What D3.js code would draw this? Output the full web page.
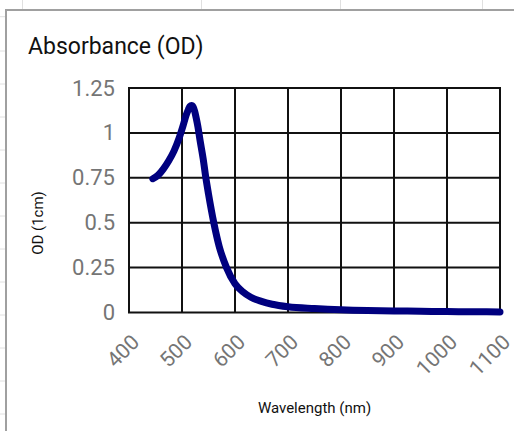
<!DOCTYPE html>
<html>
<head>
<meta charset="utf-8">
<script src="https://cdn.jsdelivr.net/npm/d3@7"></script>
<style>
  html, body { margin: 0; padding: 0; background: #fff; }
  svg { display: block; }
  text { font-family: Roboto, "Noto Sans", sans-serif; }
</style>
</head>
<body>
<svg id="chart" width="514" height="431"></svg>
<script>
// ---- data ----
const wavelengths = [445, 455, 465, 475, 485, 495, 502, 508, 512, 515, 518, 521, 524, 527, 530, 534, 540, 545, 550, 560, 570, 584, 600, 615, 630, 650, 670, 700, 750, 800, 850, 900, 950, 1000, 1050, 1100];
const odValues    = [0.745, 0.765, 0.80, 0.845, 0.90, 0.975, 1.04, 1.10, 1.13, 1.148, 1.153, 1.145, 1.12, 1.08, 1.035, 0.96, 0.855, 0.75, 0.66, 0.50, 0.37, 0.25, 0.16, 0.115, 0.085, 0.062, 0.046, 0.032, 0.022, 0.015, 0.011, 0.009, 0.007, 0.005, 0.004, 0.003];
const xTicks = [400, 500, 600, 700, 800, 900, 1000, 1100];
const yTicks = [0, 0.25, 0.5, 0.75, 1, 1.25];
const yTickLabels = ["0", "0.25", "0.5", "0.75", "1", "1.25"];
const chartTitle = "Absorbance (OD)";
const xTitle = "Wavelength (nm)";
const yTitle = "OD (1cm)";

const svg = d3.select("#chart");

// ---- spreadsheet background ----
const bg = svg.append("g");
[16.7, 51, 84, 117, 150, 183, 216, 249, 282, 315, 348, 381, 414].forEach(y => {
  bg.append("line").attr("x1", 0).attr("x2", 6).attr("y1", y).attr("y2", y)
    .attr("stroke", "#e0e0e0").attr("stroke-width", 1);
});
[22.5, 201.5, 340.5, 482.5].forEach(x => {
  bg.append("line").attr("x1", x).attr("x2", x).attr("y1", 0).attr("y2", 10)
    .attr("stroke", "#e0e0e0").attr("stroke-width", 1);
});
// chart panel
svg.append("rect").attr("x", 6).attr("y", 10).attr("width", 520).attr("height", 430)
  .attr("fill", "#fff").attr("stroke", "#a0a0a0").attr("stroke-width", 2);

// ---- scales ----
const x = d3.scaleLinear().domain([400, 1100]).range([129, 500]);
const y = d3.scaleLinear().domain([0, 1.25]).range([312.5, 88]);

// ---- gridlines ----
const grid = svg.append("g");
grid.selectAll("line.v").data(xTicks).join("line")
  .attr("x1", d => x(d)).attr("x2", d => x(d))
  .attr("y1", y(1.25)).attr("y2", y(0))
  .attr("stroke", "#111").attr("stroke-width", 2);
grid.selectAll("line.h").data(yTicks).join("line")
  .attr("x1", x(400) - 1).attr("x2", x(1100) + 1)
  .attr("y1", d => y(d)).attr("y2", d => y(d))
  .attr("stroke", "#111").attr("stroke-width", 2);

// ---- axes labels ----
const yAxis = d3.axisLeft(y).tickValues(yTicks).tickSize(0).tickPadding(14)
  .tickFormat((d, i) => yTickLabels[i]);
const gy = svg.append("g").attr("transform", `translate(${x(400)},0)`).call(yAxis);
gy.select(".domain").remove();
gy.selectAll("text").attr("fill", "#757575").style("font-size", "22px")
  .style("font-family", "Roboto, sans-serif");

const xAxis = d3.axisBottom(x).tickValues(xTicks).tickSize(0).tickFormat(d3.format("d"));
const gx = svg.append("g").attr("transform", `translate(0,${y(0)})`).call(xAxis);
gx.select(".domain").remove();
gx.selectAll("text")
  .attr("fill", "#757575").style("font-size", "21px").style("font-family", "Roboto, sans-serif")
  .attr("text-anchor", "end").attr("dy", 0).attr("y", 0)
  .attr("transform", "translate(11,31) rotate(-45)");

// ---- line ----
const pts = wavelengths.map((w, i) => [w, odValues[i]]);
const line = d3.line().x(d => x(d[0])).y(d => y(d[1])).curve(d3.curveMonotoneX);
svg.append("path").datum(pts).attr("d", line)
  .attr("fill", "none").attr("stroke", "#00007f").attr("stroke-width", 7)
  .attr("stroke-linecap", "round").attr("stroke-linejoin", "round");

// ---- titles ----
svg.append("text").attr("x", 28).attr("y", 54).text(chartTitle)
  .style("font-size", "23px").attr("fill", "#111");
svg.append("text").attr("x", 314.5).attr("y", 413).attr("text-anchor", "middle")
  .text(xTitle).style("font-size", "15px").attr("fill", "#111");
svg.append("text").attr("transform", "translate(43,223) rotate(-90)").attr("text-anchor", "middle")
  .text(yTitle).style("font-size", "15px").attr("fill", "#111");
</script>
</body>
</html>
